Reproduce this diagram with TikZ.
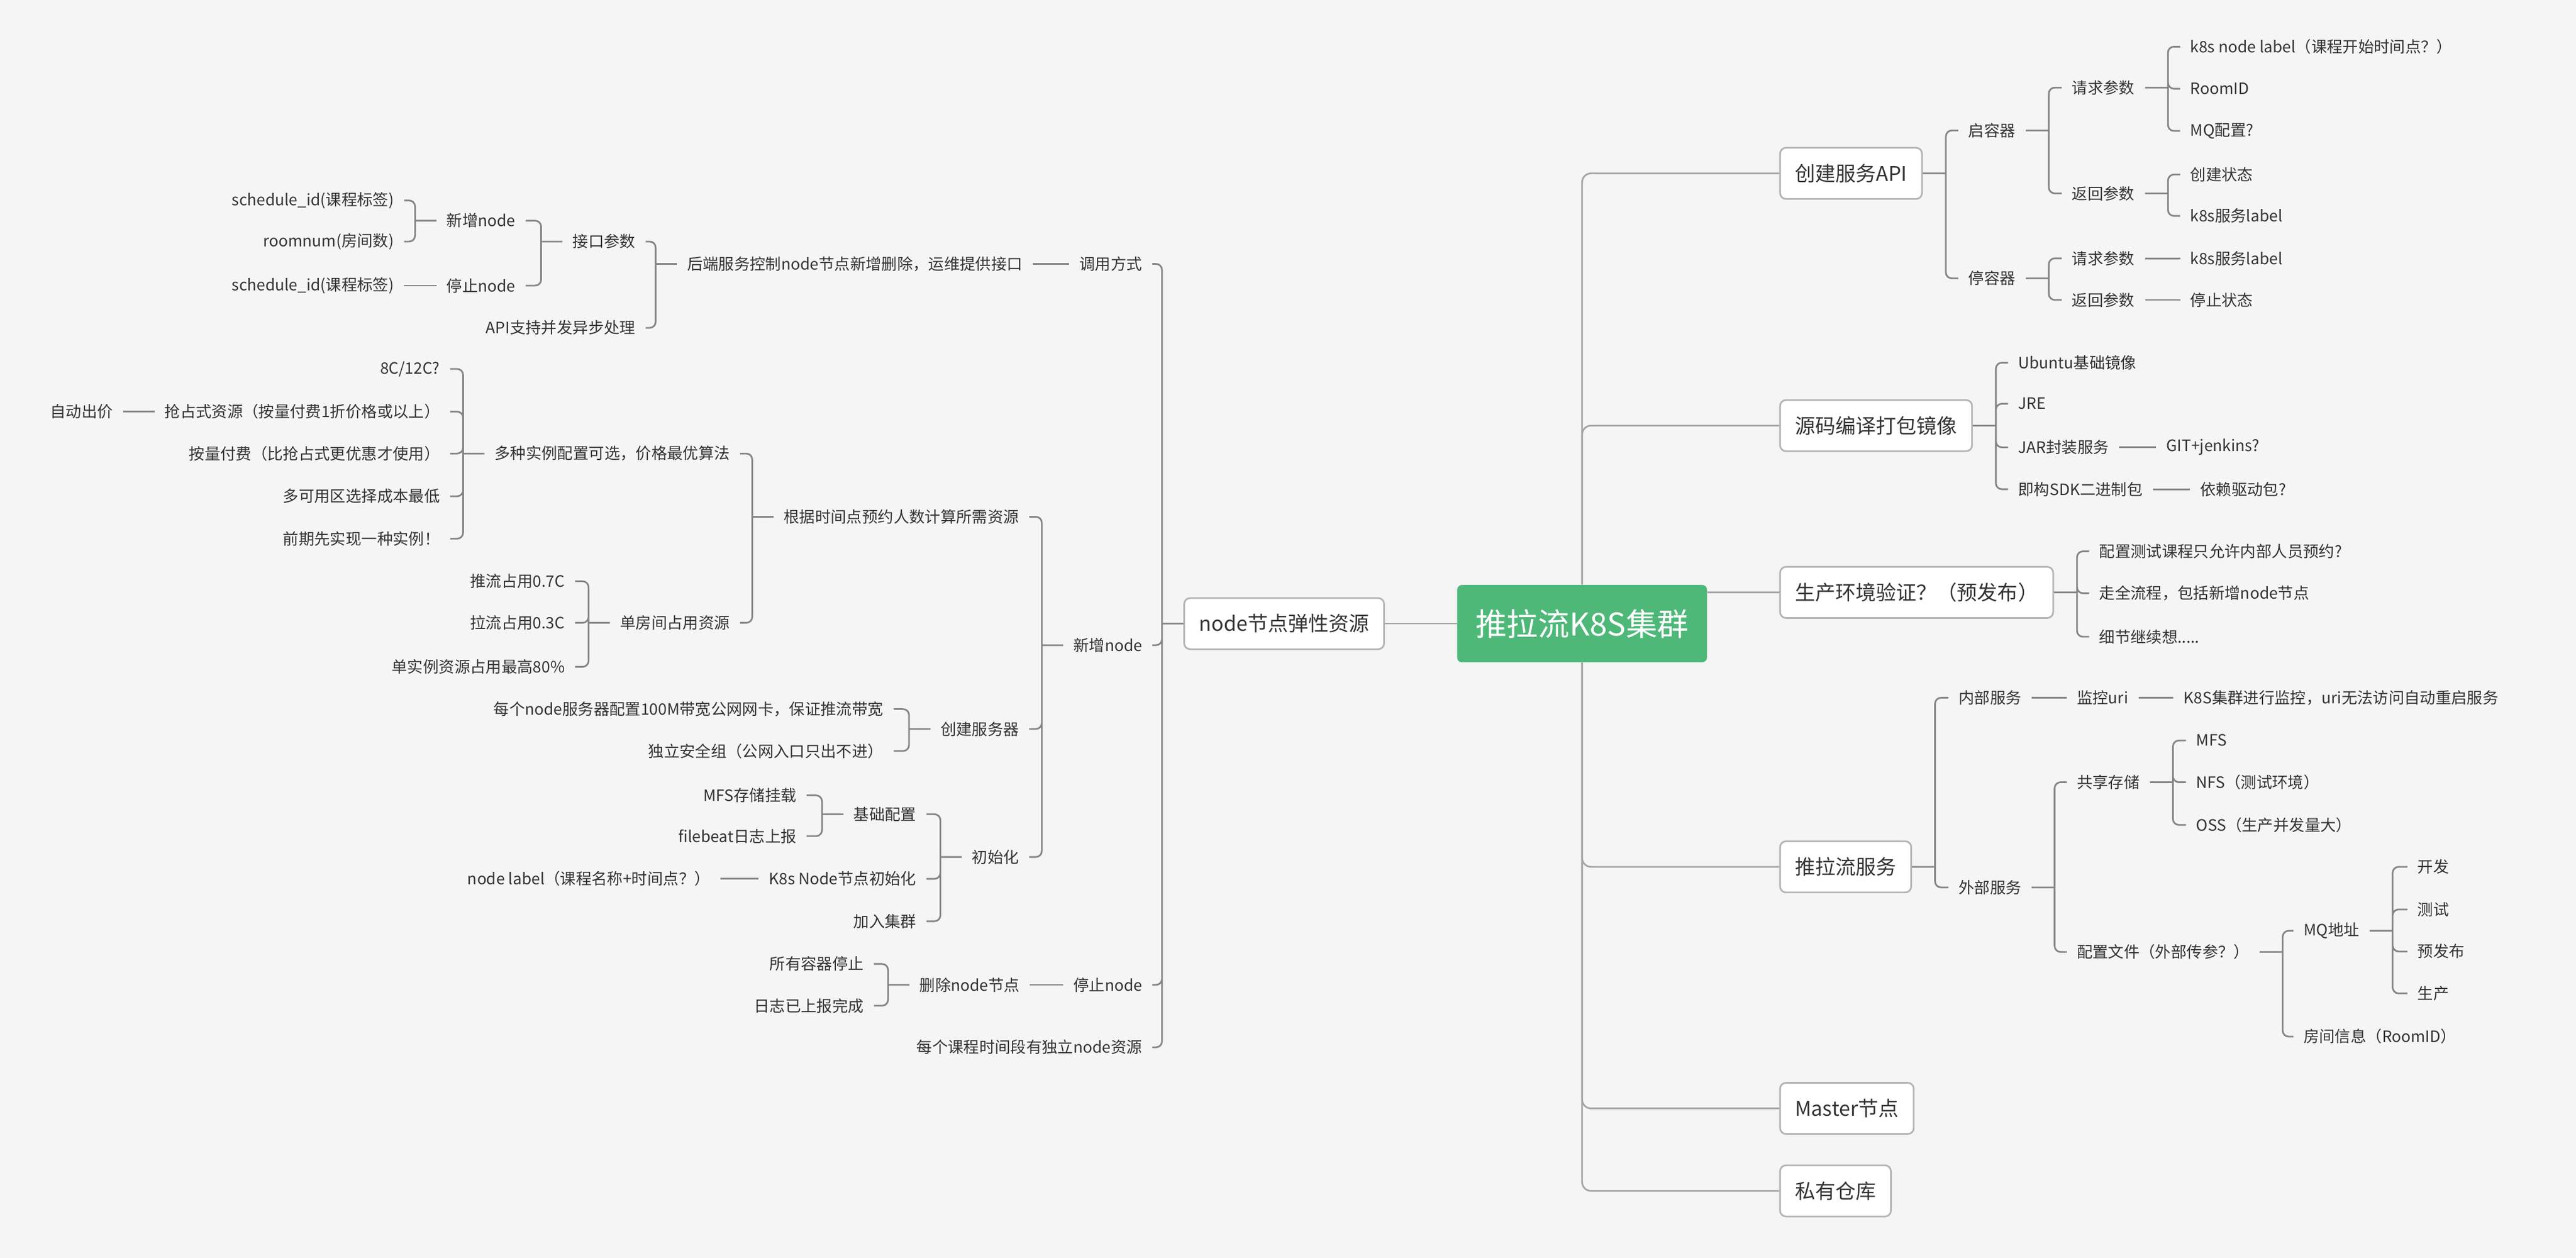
\documentclass[tikz,border=0pt]{standalone}
\usepackage{fontspec}
\setmainfont{Noto Sans CJK SC}
\usepackage{tikz}
\definecolor{rootgreen}{HTML}{4EB879}
\definecolor{pagebg}{HTML}{F5F5F5}
\definecolor{inkgray}{HTML}{333333}
\definecolor{linegray}{HTML}{858585}
\definecolor{trunkgray}{HTML}{A5A5A5}
\definecolor{framegray}{HTML}{B4B4B4}

\tikzset{
  topic/.style={text=inkgray, font=\fontsize{7.5}{9}\selectfont, inner xsep=1.65mm, inner ysep=0.6mm},
  ltopic/.style={topic, anchor=east},
  rtopic/.style={topic, anchor=west},
  branch/.style={rectangle, rounded corners=1mm, draw=framegray, line width=0.8pt, fill=white, text=inkgray, font=\fontsize{9.7}{11}\selectfont, minimum height=0.86cm, inner xsep=2.5mm},
  central/.style={rectangle, rounded corners=0.8mm, fill=rootgreen, text=white, font=\fontsize{15}{18}\selectfont, minimum width=4.2cm, minimum height=1.3cm},
  conn/.style={draw=linegray, line width=0.8pt, rounded corners=1mm},
  trunk/.style={draw=trunkgray, line width=0.8pt, rounded corners=1.5mm}
}

\begin{document}
\begin{tikzpicture}[x=0.027615cm, y=-0.027615cm]
\useasboundingbox (0,0) rectangle (1568,765.5);
\fill[pagebg] (0,0) rectangle (1568,765.5);

% Root
\node[central] (root) at (963,379.5) {推拉流K8S集群};

% Left branch
\node[branch, anchor=east] (elastic) at (843,379.5) {node节点弹性资源};
\node[ltopic] (call) at (701.5,160.6) {调用方式};
\node[ltopic] (addnode) at (701.5,392.6) {新增node};
\node[ltopic] (stopnode) at (701.5,599.3) {停止node};
\node[ltopic] (perclass) at (701.5,637.3) {每个课程时间段有独立node资源};

% Interface
\node[ltopic] (backend) at (628.7,160.6) {后端服务控制node节点新增删除，运维提供接口};
\node[ltopic] (param) at (393,147) {接口参数};
\node[ltopic] (async) at (393,199.5) {API支持并发异步处理};
\node[ltopic] (pnew) at (320,134.3) {新增node};
\node[ltopic] (pstop) at (320,173.8) {停止node};
\node[ltopic] (sid1) at (246,122) {schedule\_id(课程标签)};
\node[ltopic] (roomnum) at (246,147) {roomnum(房间数)};
\node[ltopic] (sid2) at (246,173.8) {schedule\_id(课程标签)};

% Resources
\node[ltopic] (calc) at (626.5,314.5) {根据时间点预约人数计算所需资源};
\node[ltopic] (multi) at (450.5,276) {多种实例配置可选，价格最优算法};
\node[ltopic] (c8) at (274,224.5) {8C/12C?};
\node[ltopic] (spot) at (274,250.5) {抢占式资源（按量付费1折价格或以上）};
\node[ltopic] (autobid) at (75,250.5) {自动出价};
\node[ltopic] (payg) at (274,276) {按量付费（比抢占式更优惠才使用）};
\node[ltopic] (multiaz) at (274,302) {多可用区选择成本最低};
\node[ltopic] (onekind) at (274,327.8) {前期先实现一种实例！};
\node[ltopic] (room) at (450.5,379) {单房间占用资源};
\node[ltopic] (push) at (350,353.7) {推流占用0.7C};
\node[ltopic] (pull) at (350,379) {拉流占用0.3C};
\node[ltopic] (maxuse) at (350,405.8) {单实例资源占用最高80\%};

% Server
\node[ltopic] (mkserver) at (626.5,443.6) {创建服务器};
\node[ltopic] (bandwidth) at (544,431.5) {每个node服务器配置100M带宽公网网卡，保证推流带宽};
\node[ltopic] (secgroup) at (544,457) {独立安全组（公网入口只出不进）};

% Init
\node[ltopic] (init) at (626.5,521.5) {初始化};
\node[ltopic] (basecfg) at (564,495.5) {基础配置};
\node[ltopic] (mfsmount) at (491,484) {MFS存储挂载};
\node[ltopic] (filebeat) at (491,508.8) {filebeat日志上报};
\node[ltopic] (k8sinit) at (564,534.8) {K8s Node节点初始化};
\node[ltopic] (nodelabel) at (438.5,534.8) {node label（课程名称+时间点？）};
\node[ltopic] (joincluster) at (564,560.6) {加入集群};

% Stop
\node[ltopic] (delnode) at (627,599.3) {删除node节点};
\node[ltopic] (allstop) at (532,586.6) {所有容器停止};
\node[ltopic] (logdone) at (532,612) {日志已上报完成};

% Right branches
\node[branch, anchor=west] (api) at (1083,105.5) {创建服务API};
\node[rtopic] (startc) at (1192,79.4) {启容器};
\node[rtopic] (stopc) at (1192,169.4) {停容器};
\node[rtopic] (req) at (1255,53.3) {请求参数};
\node[rtopic] (ret) at (1255,117.7) {返回参数};
\node[rtopic] (k8slabel) at (1327,28.4) {k8s node label（课程开始时间点？）};
\node[rtopic] (roomid) at (1327,54) {RoomID};
\node[rtopic] (mqcfg) at (1327,79.7) {MQ配置?};
\node[rtopic] (created) at (1327,106.2) {创建状态};
\node[rtopic] (svclabel) at (1327,131.4) {k8s服务label};
\node[rtopic] (sreq) at (1255,157.2) {请求参数};
\node[rtopic] (sret) at (1255,182.5) {返回参数};
\node[rtopic] (svclabelb) at (1327,157.2) {k8s服务label};
\node[rtopic] (stopped) at (1327,182.5) {停止状态};

\node[branch, anchor=west] (build) at (1083,259) {源码编译打包镜像};
\node[rtopic] (ubuntu) at (1222.3,220.7) {Ubuntu基础镜像};
\node[rtopic] (jre) at (1222.3,245.7) {JRE};
\node[rtopic] (jar) at (1222.3,272.2) {JAR封装服务};
\node[rtopic] (gitci) at (1312.5,272.2) {GIT+jenkins?};
\node[rtopic] (sdk) at (1222.3,297.7) {即构SDK二进制包};
\node[rtopic] (driver) at (1333,297.7) {依赖驱动包?};

\node[branch, anchor=west] (verify) at (1083,360.5) {生产环境验证？（预发布）};
\node[rtopic] (testonly) at (1271.6,335.5) {配置测试课程只允许内部人员预约?};
\node[rtopic] (fullflow) at (1271.6,361) {走全流程，包括新增node节点};
\node[rtopic] (detail) at (1271.6,387.5) {细节继续想.....};

\node[branch, anchor=west] (stream) at (1083,527.5) {推拉流服务};
\node[rtopic] (internal) at (1186,424.6) {内部服务};
\node[rtopic] (monitor) at (1258,424.6) {监控uri};
\node[rtopic] (restart) at (1323,424.6) {K8S集群进行监控，uri无法访问自动重启服务};
\node[rtopic] (external) at (1186,540) {外部服务};
\node[rtopic] (share) at (1258,476) {共享存储};
\node[rtopic] (mfs) at (1330.6,450.6) {MFS};
\node[rtopic] (nfs) at (1330.6,476) {NFS（测试环境）};
\node[rtopic] (oss) at (1330.6,502) {OSS（生产并发量大）};
\node[rtopic] (cfgfile) at (1258,579.3) {配置文件（外部传参？）};
\node[rtopic] (mqaddr) at (1396,566.4) {MQ地址};
\node[rtopic] (dev) at (1465.4,527.5) {开发};
\node[rtopic] (test) at (1465.4,553.4) {测试};
\node[rtopic] (pre) at (1465.4,579) {预发布};
\node[rtopic] (prod) at (1465.4,604.5) {生产};
\node[rtopic] (roominfo) at (1396,630.8) {房间信息（RoomID）};

\node[branch, anchor=west] (master) at (1083,674.5) {Master节点};
\node[branch, anchor=west] (repo) at (1083,724.7) {私有仓库};

% Trunk lines from the root
\draw[trunk] (root.north) |- (api.west);
\draw[trunk] (root.north) |- (build.west);
\draw[trunk] (root.east |- verify.west) -- (verify.west);
\draw[trunk] (root.south) |- (stream.west);
\draw[trunk] (root.south) |- (master.west);
\draw[trunk] (root.south) |- (repo.west);
\draw[trunk] (root.west) -- (elastic.east);

% Left connectors
\draw[conn] (elastic.west) -- ++(-13,0)
  (elastic.west) ++(-13,0) |- (call.east)
  (elastic.west) ++(-13,0) |- (addnode.east)
  (elastic.west) ++(-13,0) |- (stopnode.east)
  (elastic.west) ++(-13,0) |- (perclass.east);
\draw[conn] (call.west) -- (backend.east);
\draw[conn] (backend.west) -- ++(-13,0)
  (backend.west) ++(-13,0) |- (param.east)
  (backend.west) ++(-13,0) |- (async.east);
\draw[conn] (param.west) -- ++(-13,0)
  (param.west) ++(-13,0) |- (pnew.east)
  (param.west) ++(-13,0) |- (pstop.east);
\draw[conn] (pnew.west) -- ++(-13,0)
  (pnew.west) ++(-13,0) |- (sid1.east)
  (pnew.west) ++(-13,0) |- (roomnum.east);
\draw[conn] (pstop.west) -- (sid2.east);
\draw[conn] (addnode.west) -- ++(-13,0)
  (addnode.west) ++(-13,0) |- (calc.east)
  (addnode.west) ++(-13,0) |- (mkserver.east)
  (addnode.west) ++(-13,0) |- (init.east);
\draw[conn] (calc.west) -- ++(-13,0)
  (calc.west) ++(-13,0) |- (multi.east)
  (calc.west) ++(-13,0) |- (room.east);
\draw[conn] (multi.west) -- ++(-13,0)
  (multi.west) ++(-13,0) |- (c8.east)
  (multi.west) ++(-13,0) |- (spot.east)
  (multi.west) ++(-13,0) |- (payg.east)
  (multi.west) ++(-13,0) |- (multiaz.east)
  (multi.west) ++(-13,0) |- (onekind.east);
\draw[conn] (spot.west) -- (autobid.east);
\draw[conn] (room.west) -- ++(-13,0)
  (room.west) ++(-13,0) |- (push.east)
  (room.west) ++(-13,0) |- (pull.east)
  (room.west) ++(-13,0) |- (maxuse.east);
\draw[conn] (mkserver.west) -- ++(-13,0)
  (mkserver.west) ++(-13,0) |- (bandwidth.east)
  (mkserver.west) ++(-13,0) |- (secgroup.east);
\draw[conn] (init.west) -- ++(-13,0)
  (init.west) ++(-13,0) |- (basecfg.east)
  (init.west) ++(-13,0) |- (k8sinit.east)
  (init.west) ++(-13,0) |- (joincluster.east);
\draw[conn] (basecfg.west) -- ++(-13,0)
  (basecfg.west) ++(-13,0) |- (mfsmount.east)
  (basecfg.west) ++(-13,0) |- (filebeat.east);
\draw[conn] (k8sinit.west) -- (nodelabel.east);
\draw[conn] (stopnode.west) -- (delnode.east);
\draw[conn] (delnode.west) -- ++(-13,0)
  (delnode.west) ++(-13,0) |- (allstop.east)
  (delnode.west) ++(-13,0) |- (logdone.east);

% Right connectors
\draw[conn] (api.east) -- ++(14,0)
  (api.east) ++(14,0) |- (startc.west)
  (api.east) ++(14,0) |- (stopc.west);
\draw[conn] (startc.east) -- ++(14,0)
  (startc.east) ++(14,0) |- (req.west)
  (startc.east) ++(14,0) |- (ret.west);
\draw[conn] (req.east) -- ++(14,0)
  (req.east) ++(14,0) |- (k8slabel.west)
  (req.east) ++(14,0) |- (roomid.west)
  (req.east) ++(14,0) |- (mqcfg.west);
\draw[conn] (ret.east) -- ++(14,0)
  (ret.east) ++(14,0) |- (created.west)
  (ret.east) ++(14,0) |- (svclabel.west);
\draw[conn] (stopc.east) -- ++(14,0)
  (stopc.east) ++(14,0) |- (sreq.west)
  (stopc.east) ++(14,0) |- (sret.west);
\draw[conn] (sreq.east) -- (svclabelb.west);
\draw[conn] (sret.east) -- (stopped.west);
\draw[conn] (build.east) -- ++(14,0)
  (build.east) ++(14,0) |- (ubuntu.west)
  (build.east) ++(14,0) |- (jre.west)
  (build.east) ++(14,0) |- (jar.west)
  (build.east) ++(14,0) |- (sdk.west);
\draw[conn] (jar.east) -- (gitci.west);
\draw[conn] (sdk.east) -- (driver.west);
\draw[conn] (verify.east) -- ++(14,0)
  (verify.east) ++(14,0) |- (testonly.west)
  (verify.east) ++(14,0) |- (fullflow.west)
  (verify.east) ++(14,0) |- (detail.west);
\draw[conn] (stream.east) -- ++(14,0)
  (stream.east) ++(14,0) |- (internal.west)
  (stream.east) ++(14,0) |- (external.west);
\draw[conn] (internal.east) -- (monitor.west);
\draw[conn] (monitor.east) -- (restart.west);
\draw[conn] (external.east) -- ++(14,0)
  (external.east) ++(14,0) |- (share.west)
  (external.east) ++(14,0) |- (cfgfile.west);
\draw[conn] (share.east) -- ++(14,0)
  (share.east) ++(14,0) |- (mfs.west)
  (share.east) ++(14,0) |- (nfs.west)
  (share.east) ++(14,0) |- (oss.west);
\draw[conn] (cfgfile.east) -- ++(14,0)
  (cfgfile.east) ++(14,0) |- (mqaddr.west)
  (cfgfile.east) ++(14,0) |- (roominfo.west);
\draw[conn] (mqaddr.east) -- ++(14,0)
  (mqaddr.east) ++(14,0) |- (dev.west)
  (mqaddr.east) ++(14,0) |- (test.west)
  (mqaddr.east) ++(14,0) |- (pre.west)
  (mqaddr.east) ++(14,0) |- (prod.west);
\end{tikzpicture}
\end{document}
